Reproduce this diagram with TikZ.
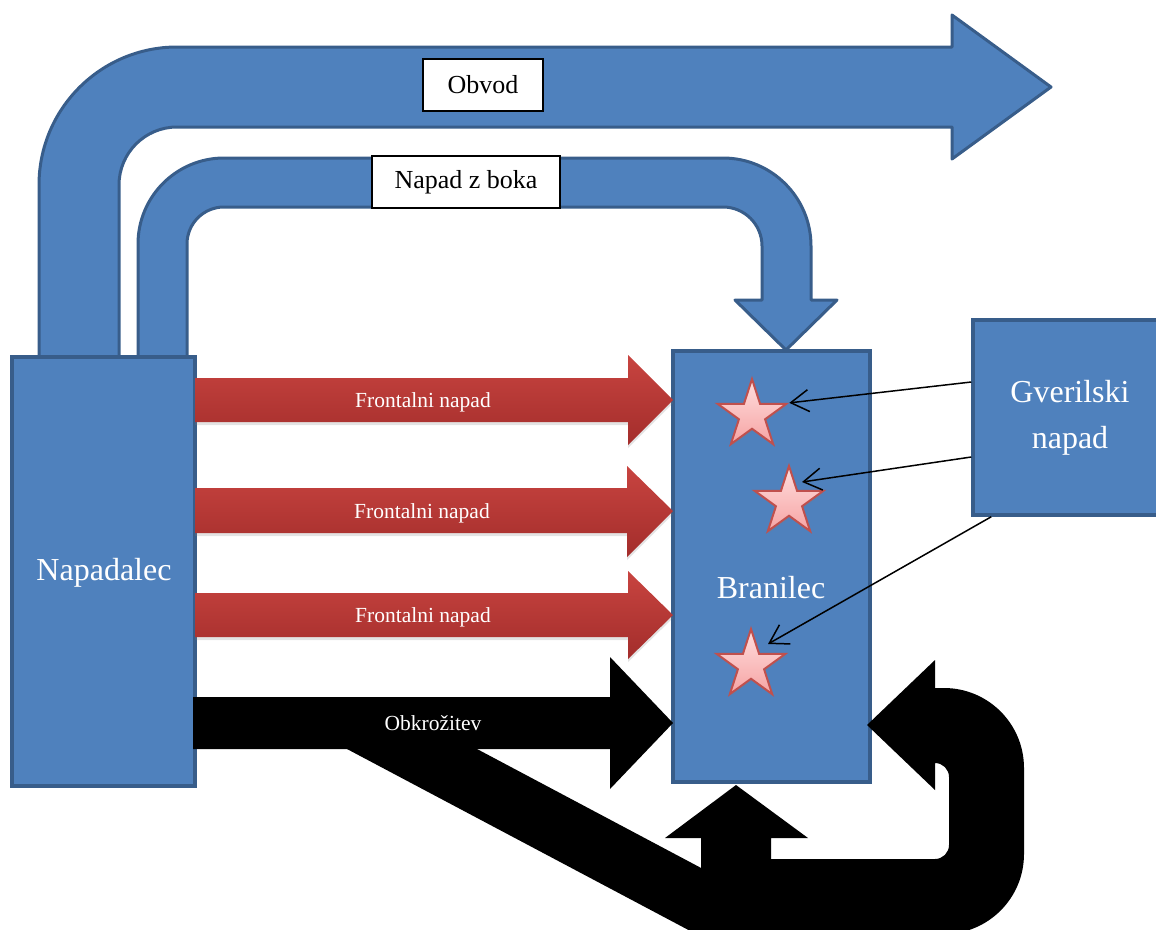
\documentclass[tikz,border=0pt]{standalone}
\usepackage{fontspec}
\setmainfont{Liberation Serif}
\usetikzlibrary{arrows.meta,shapes.geometric,shadows}
\definecolor{blueFill}{RGB}{79,129,189}
\definecolor{blueLine}{RGB}{56,93,138}
\definecolor{redTop}{RGB}{200,68,64}
\definecolor{redBot}{RGB}{163,45,43}
\definecolor{starTop}{RGB}{255,222,222}
\definecolor{starBot}{RGB}{246,164,164}
\definecolor{starLine}{RGB}{192,80,77}
\begin{document}
\begin{tikzpicture}[x=1pt,y=-1pt,
  bluearrow/.style={fill=blueFill,draw=blueLine,line width=3pt,line join=round},
  party/.style={rectangle,fill=blueFill,draw=blueLine,line width=3.5pt,inner sep=0pt},
  partytext/.style={text=white,font=\fontsize{32}{46}\selectfont,align=center,inner sep=0pt},
  tag/.style={rectangle,draw=black,fill=white,line width=2pt,inner sep=0pt,
              font=\fontsize{26}{30}\selectfont},
  redarrow/.style={top color=redTop,bottom color=redBot,draw=none,
              drop shadow={shadow xshift=0pt,shadow yshift=-3pt,opacity=0.22}},
  arrowtext/.style={text=white,font=\fontsize{21.5}{24}\selectfont,inner sep=0pt},
  blackarrow/.style={fill=black,draw=none},
  guerrilla/.style={star,star points=5,star point ratio=2.618,minimum size=72pt,
              inner sep=0pt,top color=starTop,bottom color=starBot,draw=starLine,
              line width=2pt,drop shadow={shadow xshift=1pt,shadow yshift=-2pt,opacity=0.2}},
  hint/.style={draw=black,line width=1.5pt,-{Straight Barb[length=18pt,width=22pt]}}]
\useasboundingbox (0,0) rectangle (1156,929);
\clip (0,0) rectangle (1156,929);

% encirclement route (Obvod)
\path[bluearrow] (39,357) -- (39,185) arc[start angle=180,end angle=270,radius=138]
  -- (952,47) -- (952,15) -- (1051,87) -- (952,159) -- (952,127)
  -- (177,127) arc[start angle=270,end angle=180,radius=58] -- (119,357) -- cycle;

% flank attack (Napad z boka)
\path[bluearrow] (138,357) -- (138,244) arc[start angle=180,end angle=270,radius=86]
  -- (723,158) arc[start angle=270,end angle=360,radius=88]
  -- (811,300) -- (837,300) -- (786,350) -- (735,300) -- (762,300)
  -- (762,246) arc[start angle=0,end angle=-90,radius=39]
  -- (224,207) arc[start angle=270,end angle=180,radius=37] -- (187,357) -- cycle;

% the two sides
\node[party,minimum width=183pt,minimum height=429pt] (att) at (103.5,571.5) {};
\node[partytext] (attText) at (104,573) {Napadalec};
\node[party,minimum width=197pt,minimum height=431pt] (def) at (771.5,566.5) {};
\node[partytext] (defText) at (771,588) {Branilec};

% route labels
\node[tag,minimum width=120pt,minimum height=52pt] (obvod) at (483,85) {Obvod};
\node[tag,minimum width=188pt,minimum height=52pt] (bok) at (466,182) {Napad z boka};

% frontal attacks
\path[redarrow] (195,378) -- (628,378) -- (628,355) -- (673,400) -- (628,445) -- (628,422) -- (195,422) -- cycle;
\node[arrowtext] (f1) at (423,402) {Frontalni napad};
\path[redarrow] (195,488) -- (627,488) -- (627,466) -- (673,511) -- (627,557) -- (627,533) -- (195,533) -- cycle;
\node[arrowtext] (f2) at (422,513) {Frontalni napad};
\path[redarrow] (195,593) -- (628,593) -- (628,571) -- (673,615) -- (628,659) -- (628,637) -- (195,637) -- cycle;
\node[arrowtext] (f3) at (423,617) {Frontalni napad};

% encirclement (Obkrozitev)
\path[blackarrow] (193,697) -- (610,697) -- (610,657) -- (673,723) -- (610,789) -- (610,749) -- (193,749) -- cycle;
\path[blackarrow] (347,749) -- (477,749) -- (720,878) -- (720,934) -- (696,934) -- cycle;
\path[blackarrow] (701,940) -- (701,838) -- (665,838) -- (736,785) -- (808,838) -- (771,838)
  -- (771,859) -- (935,859) arc[start angle=90,end angle=0,radius=14]
  -- (949,777) arc[start angle=0,end angle=-90,radius=14]
  -- (935,790) -- (867,725) -- (935,660) -- (935,688)
  -- (944,688) arc[start angle=-90,end angle=0,radius=80]
  -- (1024,854) arc[start angle=0,end angle=90,radius=80]
  -- (701,934) -- cycle;
\node[arrowtext] (obk) at (433,723) {Obkrožitev};

% guerrilla targets
\node[guerrilla] (s1) at (752,415) {};
\node[guerrilla] (s2) at (789,502) {};
\node[guerrilla] (s3) at (751,665) {};

% guerrilla attack
\node[party,minimum width=194pt,minimum height=195pt] (gv) at (1070,417.5) {};
\node[partytext] (gvText) at (1070,418) {Gverilski\\napad};

\draw[hint] ([yshift=35.5pt]gv.west) -- (s1.outer point 5);
\draw[hint] ([yshift=-39.5pt]gv.west) -- ([shift={(13pt,20pt)}]s2.center);
\draw[hint] ([xshift=20pt]gv.south west) -- ([shift={(17pt,21pt)}]s3.center);
\end{tikzpicture}
\end{document}
